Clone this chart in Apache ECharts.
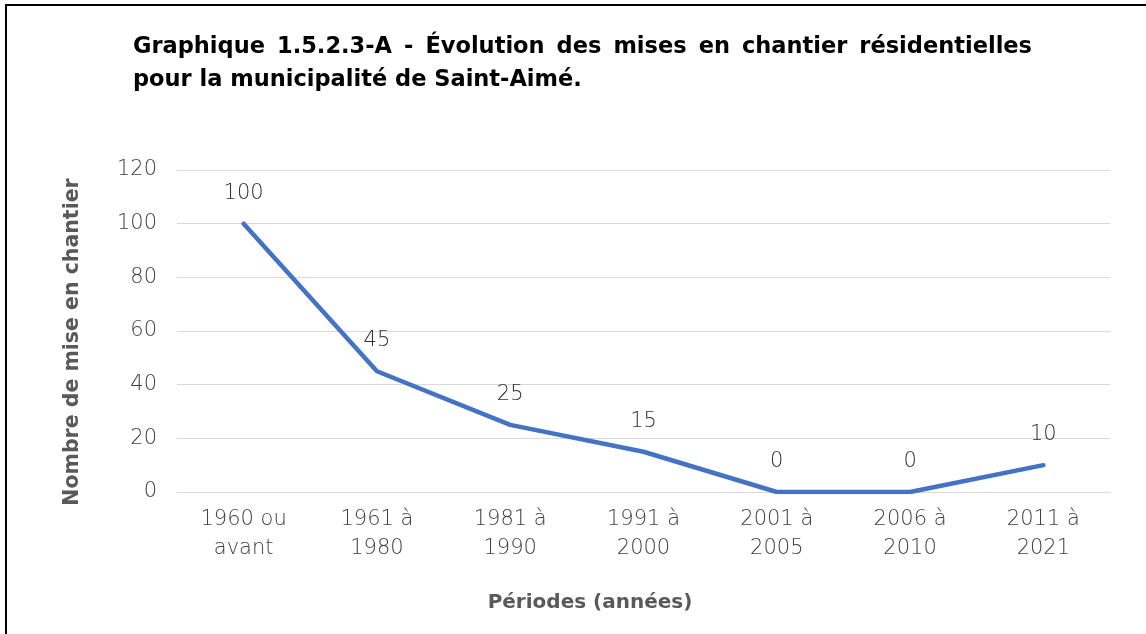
<!DOCTYPE html>
<html><head><meta charset="utf-8">
<script src="https://cdn.jsdelivr.net/npm/echarts@6/dist/echarts.min.js"></script>
<style>html,body{margin:0;padding:0;background:#fff}#c{width:1146px;height:634px}</style>
</head><body><div id="c"></div>
<script>
const categories = ['1960 ou\navant','1961 à\n1980','1981 à\n1990','1991 à\n2000','2001 à\n2005','2006 à\n2010','2011 à\n2021'];
const values = [100,45,25,15,0,0,10];
const titleLine1 = 'Graphique 1.5.2.3-A - Évolution des mises en chantier résidentielles';
const titleLine2 = 'pour la municipalité de Saint-Aimé.';
const yAxisName = 'Nombre de mise en chantier';
const xAxisName = 'Périodes (années)';

const titleFont = 'bold 22.5px "DejaVu Sans"';
const tickFont = {fontFamily:'DejaVu Sans',fontWeight:200,fontSize:21};

// justified first title line: spread words between x=133 and x=1032
const ctx = document.createElement('canvas').getContext('2d');
ctx.font = titleFont;
const words = titleLine1.split(' ');
const widths = words.map(w => ctx.measureText(w).width);
const total = widths.reduce((a,b)=>a+b,0);
const gap = (1032-133-total)/(words.length-1);
const titleGraphics = [];
let xx = 133;
words.forEach((w,i)=>{
  titleGraphics.push({type:'text',x:xx,y:47,style:{text:w,font:titleFont,fill:'#000',textVerticalAlign:'middle'}});
  xx += widths[i] + gap;
});
titleGraphics.push({type:'text',x:133,y:80,style:{text:titleLine2,font:titleFont,fill:'#000',textVerticalAlign:'middle'}});

const chart = echarts.init(document.getElementById('c'));
chart.setOption({
  animation:false,
  backgroundColor:'#fff',
  graphic:[
    {type:'rect',shape:{x:6,y:5,width:1300,height:800},style:{fill:'none',stroke:'#000',lineWidth:2},silent:true},
    ...titleGraphics,
    {type:'text',x:590,y:603,style:{text:xAxisName,font:'bold 20px "DejaVu Sans"',fill:'#595959',textAlign:'center',textVerticalAlign:'middle'}},
    {type:'text',x:73,y:342,rotation:Math.PI/2,style:{text:yAxisName,font:'bold 20.5px "DejaVu Sans"',fill:'#595959',textAlign:'center',textVerticalAlign:'middle'}}
  ],
  grid:{left:177,right:36,top:170,bottom:142,containLabel:false},
  xAxis:{
    type:'category',data:categories,boundaryGap:true,
    axisLine:{show:true,lineStyle:{color:'#d9d9d9',width:1}},
    axisTick:{show:false},
    axisLabel:{...tickFont,color:'#404040',lineHeight:29,margin:13}
  },
  yAxis:{
    type:'value',min:0,max:120,interval:20,
    axisLine:{show:false},axisTick:{show:false},
    splitLine:{lineStyle:{color:'#d9d9d9',width:1}},
    axisLabel:{...tickFont,color:'#404040',margin:20}
  },
  series:[{
    type:'line',data:values,showSymbol:true,symbol:'circle',symbolSize:2,
    itemStyle:{color:'rgba(68,114,196,0)'},
    lineStyle:{color:'#4472C4',width:4.5,cap:'round',join:'round'},
    label:{show:true,position:'top',distance:19,...tickFont,color:'#303030'}
  }]
});
</script></body></html>
